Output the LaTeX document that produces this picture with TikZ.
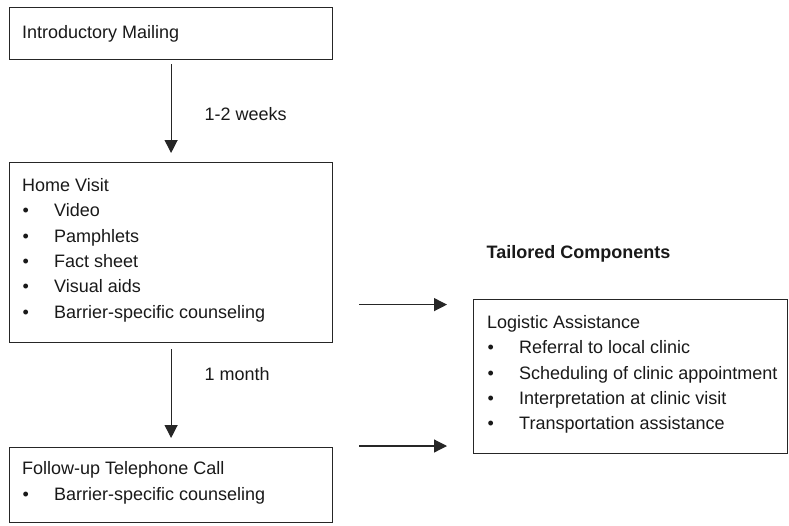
\documentclass[tikz,border=0pt]{standalone}
\usepackage{fontspec}
\setmainfont{Liberation Sans}
\usetikzlibrary{arrows.meta}

\tikzset{
  box/.style  = {draw=black!85, line width=1.2pt, inner sep=0pt, anchor=north west},
  txt/.style  = {inner sep=0pt, anchor=north west, align=left, text=black!90,
                 font=\fontsize{18}{25.3}\selectfont},
  flow/.style = {draw=black!85, line width=1.2pt, -{Triangle[length=13pt, width=13pt]}}
}
\newcommand{\itm}[1]{\hspace*{0.5pt}\makebox[31.5pt][l]{\textbullet}#1}

\begin{document}
\begin{tikzpicture}[x=1pt, y=-1pt]
    \useasboundingbox (0, 0) rectangle (789, 525);

    % left column
    \node[box, minimum width=323pt, minimum height=52pt] (mailing) at (9, 7) {};
    \node[box, minimum width=323pt, minimum height=180pt] (visit) at (9, 162) {};
    \node[box, minimum width=323pt, minimum height=75pt] (followup) at (9, 447) {};

    \node[txt] (mailingtxt) at (22, 25.3) {Introductory Mailing};
    \node[txt] (visittxt) at (22, 178.3) {Home Visit\\
        \itm{Video}\\
        \itm{Pamphlets}\\
        \itm{Fact sheet}\\
        \itm{Visual aids}\\
        \itm{Barrier-specific counseling}};
    \node[txt] (followuptxt) at (22, 461.5) {Follow-up Telephone Call\\
        \itm{Barrier-specific counseling}};

    % right column
    \node[txt, anchor=base west, font=\fontsize{18}{25.3}\selectfont\bfseries]
        (tailored) at (486.5, 258.2) {Tailored Components};
    \node[box, minimum width=314pt, minimum height=154pt] (logistic) at (473, 299) {};
    \node[txt] (logistictxt) at (487, 315.2) {Logistic Assistance\\
        \itm{Referral to local clinic}\\
        \itm{Scheduling of clinic appointment}\\
        \itm{Interpretation at clinic visit}\\
        \itm{Transportation assistance}};

    % connectors
    \draw[flow, shorten <=4pt, shorten >=9pt] (mailing.south) -- (visit.north)
        node[txt, anchor=west, pos=0.534, xshift=33pt, inner sep=0pt] (weeks) {1-2 weeks};
    \draw[flow, shorten <=6pt, shorten >=9pt] (visit.south) -- (followup.north)
        node[txt, anchor=west, pos=0.295, xshift=33pt, inner sep=0pt] (month) {1 month};
    \draw[flow, shorten <=26pt, shorten >=26pt]
        ([yshift=-52pt]visit.east) -- ([yshift=-52pt]visit.east -| logistic.west);
    \draw[flow, shorten <=26pt, shorten >=26pt]
        ([yshift=1pt]followup.north east) -- ([yshift=1pt]followup.north east -| logistic.west);
\end{tikzpicture}
\end{document}
